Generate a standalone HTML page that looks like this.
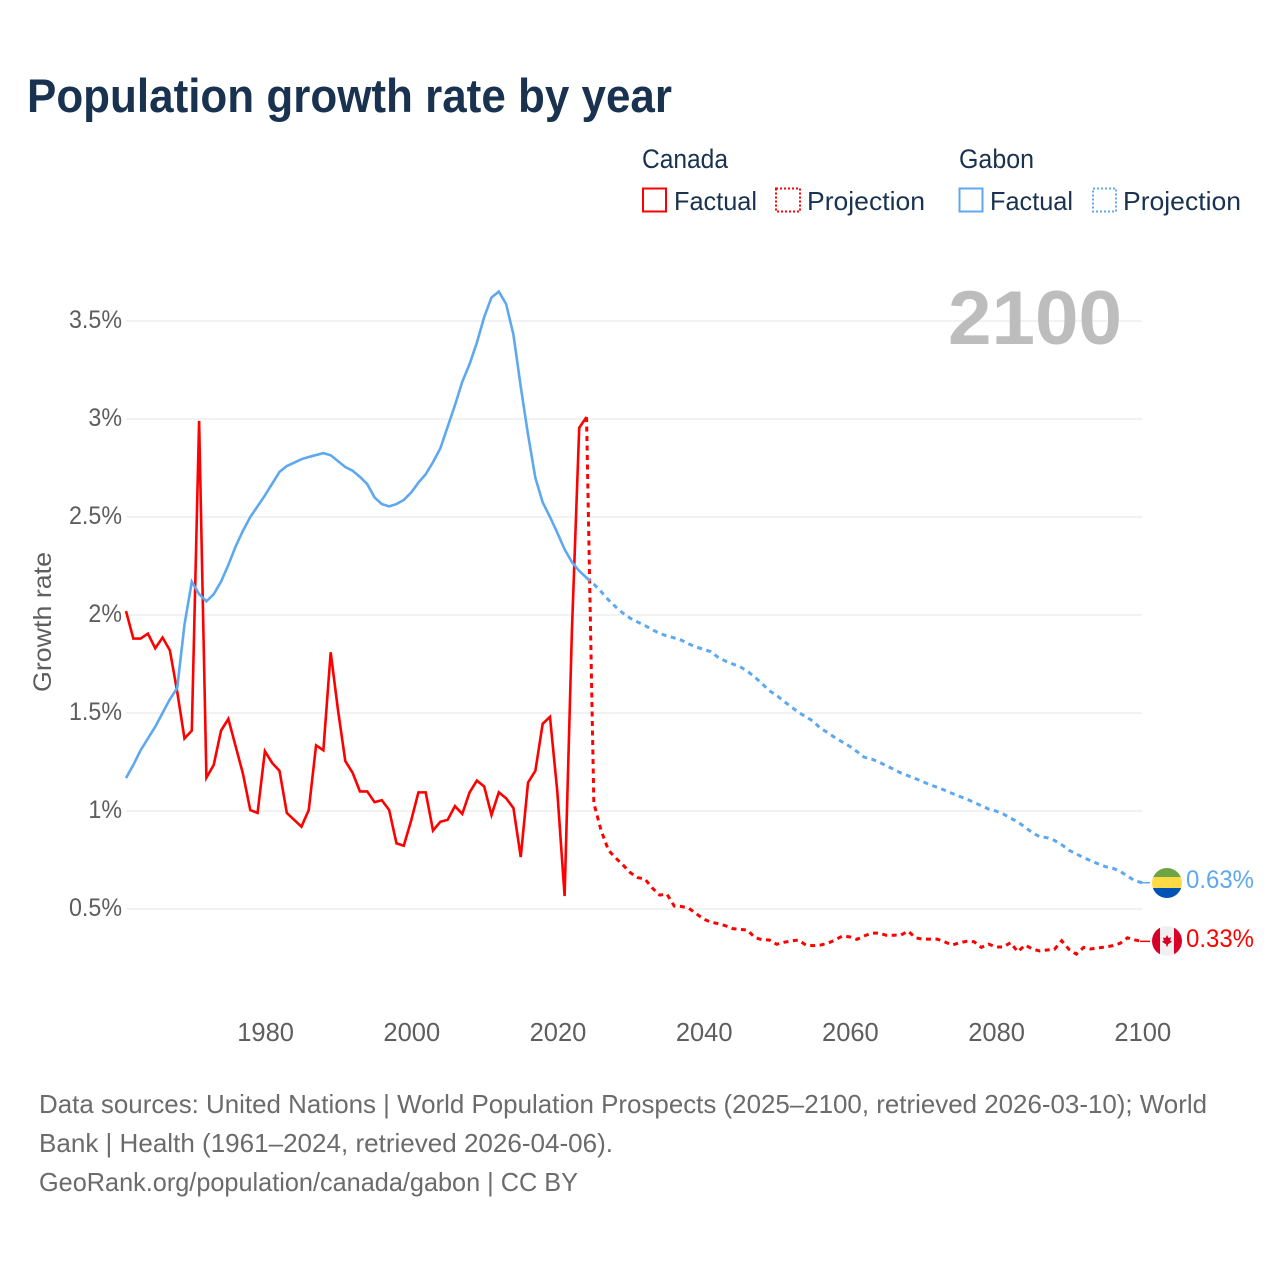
<!DOCTYPE html>
<html lang="en">
<head>
<meta charset="utf-8">
<title>Population growth rate by year</title>
<style>
html,body{margin:0;padding:0;background:#fff;}
svg{display:block;font-family:"Liberation Sans",sans-serif;}
</style>
</head>
<body>
<svg id="chart" xmlns="http://www.w3.org/2000/svg" width="1280" height="1280" viewBox="0 0 1280 1280">
  <rect x="0" y="0" width="1280" height="1280" fill="#fff"/>
  <text x="27" y="112" font-size="47" font-weight="700" fill="#18324f" textLength="645" lengthAdjust="spacingAndGlyphs">Population growth rate by year</text>

  <g font-size="26" fill="#18324f">
    <text x="642" y="168" font-size="27" textLength="86" lengthAdjust="spacingAndGlyphs">Canada</text>
    <rect x="643" y="188.5" width="23" height="23" fill="none" stroke="#ff0000" stroke-width="2"/>
    <text x="674" y="210" textLength="83" lengthAdjust="spacingAndGlyphs">Factual</text>
    <rect x="776" y="188.5" width="24" height="23" fill="none" stroke="#ff0000" stroke-width="2" stroke-dasharray="2 2"/>
    <text x="807" y="210" textLength="118" lengthAdjust="spacingAndGlyphs">Projection</text>
    <text x="959" y="168" font-size="27" textLength="75" lengthAdjust="spacingAndGlyphs">Gabon</text>
    <rect x="959.5" y="188.5" width="23" height="23" fill="none" stroke="#5ea8ef" stroke-width="2"/>
    <text x="990" y="210" textLength="83" lengthAdjust="spacingAndGlyphs">Factual</text>
    <rect x="1093" y="188.5" width="23" height="23" fill="none" stroke="#5ea8ef" stroke-width="2" stroke-dasharray="2 2"/>
    <text x="1123" y="210" textLength="118" lengthAdjust="spacingAndGlyphs">Projection</text>
  </g>

  <g id="grid"></g>
  <g id="yticks" font-size="25" fill="#5e5e5e" text-anchor="end"></g>
  <g id="xticks" font-size="25.5" fill="#5e5e5e" text-anchor="middle"></g>
  <text transform="translate(51,692) rotate(-90)" font-size="25" fill="#5e5e5e" textLength="140" lengthAdjust="spacingAndGlyphs">Growth rate</text>
  <text x="948" y="344" font-size="76" font-weight="700" fill="#bdbdbd" textLength="174" lengthAdjust="spacingAndGlyphs">2100</text>

  <g id="series"></g>

  <g>
    <clipPath id="clip-gabon"><circle cx="1167" cy="883" r="15"/></clipPath>
    <g clip-path="url(#clip-gabon)">
      <rect x="1152" y="868" width="30" height="10" fill="#6da544"/>
      <rect x="1152" y="877" width="30" height="11" fill="#ffda44"/>
      <rect x="1152" y="888" width="30" height="10" fill="#0052b4"/>
    </g>
  </g>
  <text x="1186" y="888" font-size="25" fill="#5ea8ef" textLength="68" lengthAdjust="spacingAndGlyphs">0.63%</text>

  <g>
    <clipPath id="clip-canada"><circle cx="1167" cy="941" r="15"/></clipPath>
    <g clip-path="url(#clip-canada)">
      <rect x="1152" y="926" width="30" height="30" fill="#f0f0f0"/>
      <rect x="1152" y="926" width="8" height="30" fill="#d80027"/>
      <rect x="1174" y="926" width="8" height="30" fill="#d80027"/>
      <polygon points="1167,935 1168.6,938 1171,937.4 1170.2,940.6 1172,941.6 1168,944.4 1167.5,946.5 1166.5,946.5 1166,944.4 1162,941.6 1163.8,940.6 1163,937.4 1165.4,938" fill="#d80027"/>
    </g>
  </g>
  <text x="1186" y="947" font-size="25" fill="#ff0000" textLength="68" lengthAdjust="spacingAndGlyphs">0.33%</text>

  <g font-size="26" fill="#6b6b6b">
    <text x="39" y="1113" textLength="1168" lengthAdjust="spacingAndGlyphs">Data sources: United Nations | World Population Prospects (2025–2100, retrieved 2026-03-10); World</text>
    <text x="39" y="1152" textLength="574" lengthAdjust="spacingAndGlyphs">Bank | Health (1961–2024, retrieved 2026-04-06).</text>
    <text x="39" y="1191" textLength="539" lengthAdjust="spacingAndGlyphs">GeoRank.org/population/canada/gabon | CC BY</text>
  </g>
</svg>

<script>
const yTickValues = [0.5, 1, 1.5, 2, 2.5, 3, 3.5];
const yTickLabels = ['0.5%', '1%', '1.5%', '2%', '2.5%', '3%', '3.5%'];
const xTickValues = [1980, 2000, 2020, 2040, 2060, 2080, 2100];
const xTickLabels = ['1980', '2000', '2020', '2040', '2060', '2080', '2100'];

const factualStartYear = 1961;
const projectionStartYear = 2024;

const canadaFactual = [2.02,1.88,1.88,1.905,1.83,1.885,1.82,1.61,1.37,1.41,2.99,1.17,1.235,1.41,1.47,1.33,1.19,1.005,0.99,1.305,1.245,1.205,0.99,0.955,0.92,1.005,1.335,1.31,1.81,1.515,1.255,1.195,1.1,1.1,1.045,1.055,1.005,0.835,0.823,0.95,1.095,1.095,0.9,0.945,0.955,1.025,0.985,1.095,1.155,1.125,0.98,1.095,1.065,1.015,0.765,1.145,1.205,1.445,1.48,1.1,0.566,1.92,2.955,3.01];
const canadaProjection = [3.01,1.04,0.9,0.8,0.76,0.724,0.685,0.66,0.653,0.607,0.571,0.576,0.515,0.513,0.504,0.476,0.449,0.433,0.425,0.415,0.4,0.396,0.393,0.355,0.343,0.342,0.32,0.33,0.337,0.342,0.316,0.313,0.316,0.325,0.342,0.362,0.358,0.345,0.363,0.377,0.377,0.366,0.366,0.367,0.387,0.353,0.346,0.346,0.346,0.332,0.316,0.328,0.335,0.333,0.304,0.321,0.306,0.306,0.328,0.282,0.316,0.296,0.286,0.291,0.294,0.338,0.294,0.27,0.304,0.296,0.302,0.306,0.313,0.325,0.353,0.342,0.335];
const gabonFactual = [1.168,1.235,1.31,1.37,1.43,1.5,1.57,1.627,1.95,2.17,2.107,2.07,2.106,2.17,2.255,2.35,2.43,2.5,2.555,2.61,2.67,2.73,2.76,2.777,2.795,2.806,2.816,2.826,2.815,2.785,2.755,2.736,2.705,2.668,2.6,2.566,2.554,2.566,2.587,2.624,2.675,2.718,2.78,2.85,2.96,3.07,3.19,3.28,3.39,3.52,3.62,3.65,3.587,3.43,3.165,2.92,2.7,2.575,2.5,2.42,2.335,2.27,2.225,2.19];
const gabonProjection = [2.19,2.158,2.119,2.077,2.041,2.009,1.983,1.964,1.946,1.925,1.906,1.893,1.883,1.871,1.852,1.837,1.825,1.813,1.784,1.765,1.75,1.736,1.713,1.684,1.65,1.614,1.59,1.56,1.531,1.503,1.481,1.458,1.422,1.4,1.374,1.352,1.33,1.303,1.274,1.265,1.25,1.231,1.213,1.194,1.18,1.165,1.15,1.133,1.121,1.106,1.09,1.075,1.061,1.044,1.027,1.01,1,0.985,0.964,0.944,0.917,0.889,0.869,0.864,0.85,0.828,0.8,0.781,0.762,0.746,0.73,0.716,0.708,0.692,0.668,0.644,0.634];

const SVG_NS = 'http://www.w3.org/2000/svg';
const RED = '#ff0000';
const BLUE = '#5ea8ef';

function xScale(year) {
  return 126 + (year - 1961) * 7.31;
}
function yScale(value) {
  return 909 - (value - 0.5) * 196;
}
function linePath(values, startYear) {
  return values.map(function (v, i) {
    return (i === 0 ? 'M' : 'L') + xScale(startYear + i).toFixed(2) + ' ' + yScale(v).toFixed(2);
  }).join(' ');
}
function svgEl(tag, parent) {
  const el = document.createElementNS(SVG_NS, tag);
  parent.appendChild(el);
  return el;
}

const gridGroup = document.getElementById('grid');
const yTickGroup = document.getElementById('yticks');
const xTickGroup = document.getElementById('xticks');
const seriesGroup = document.getElementById('series');

yTickValues.forEach(function (v, i) {
  const line = svgEl('line', gridGroup);
  
  
  line.setAttribute('x1', 126);
  line.setAttribute('x2', 1142);
  line.setAttribute('y1', yScale(v));
  line.setAttribute('y2', yScale(v));
  line.setAttribute('stroke', '#eeeeee');
  line.setAttribute('stroke-width', 1.5);

  const label = svgEl('text', yTickGroup);
  
  
  label.setAttribute('x', 122);
  label.setAttribute('y', yScale(v) + 7);
  label.textContent = yTickLabels[i];
  label.setAttribute('textLength', (label.getComputedTextLength() * 0.93).toFixed(1));
  label.setAttribute('lengthAdjust', 'spacingAndGlyphs');
});

xTickValues.forEach(function (year, i) {
  const label = svgEl('text', xTickGroup);
  
  
  label.setAttribute('x', xScale(year) + 0.7);
  label.setAttribute('y', 1041);
  label.textContent = xTickLabels[i];
});

function drawLine(name, values, startYear, color, dashed) {
  const path = svgEl('path', seriesGroup);
  
  
  path.setAttribute('d', linePath(values, startYear));
  path.setAttribute('fill', 'none');
  path.setAttribute('stroke', color);
  path.setAttribute('stroke-width', dashed ? 3 : 2.6);
  path.setAttribute('stroke-linejoin', 'miter');
  if (dashed) {
    path.setAttribute('stroke-dasharray', '5 4.5');
  }
}
function drawConnector(name, values, color) {
  const last = values[values.length - 1];
  const line = svgEl('line', seriesGroup);
  
  
  line.setAttribute('x1', xScale(2100) - 2);
  line.setAttribute('x2', 1150);
  line.setAttribute('y1', yScale(last));
  line.setAttribute('y2', yScale(last));
  line.setAttribute('stroke', color);
  line.setAttribute('stroke-width', 1.5);
}

drawLine('canada-factual-line', canadaFactual, factualStartYear, RED, false);
drawLine('canada-projection-line', canadaProjection, projectionStartYear, RED, true);
drawLine('gabon-factual-line', gabonFactual, factualStartYear, BLUE, false);
drawLine('gabon-projection-line', gabonProjection, projectionStartYear, BLUE, true);
drawConnector('canada-end-connector', canadaProjection, RED);
drawConnector('gabon-end-connector', gabonProjection, BLUE);
</script>
</body>
</html>
